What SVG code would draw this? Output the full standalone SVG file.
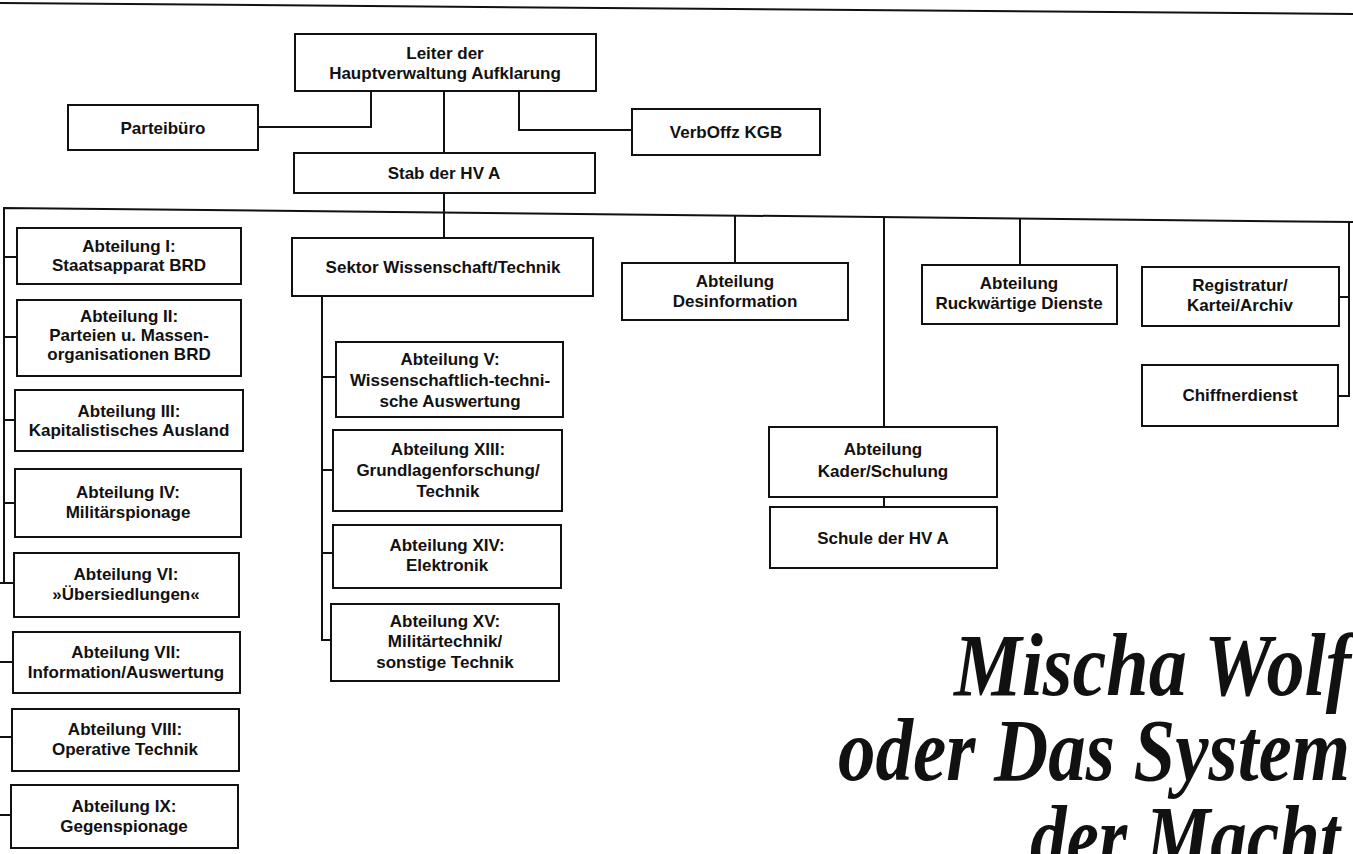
<svg xmlns="http://www.w3.org/2000/svg" width="1353" height="854" viewBox="0 0 1353 854">
<style>
.box{fill:#fff;stroke:#111;stroke-width:2}
.t{font-family:"Liberation Sans",Arial,sans-serif;font-weight:bold;font-size:17px;fill:#111;text-anchor:middle}
.c{fill:none;stroke:#111;stroke-width:2}
.title{font-family:"Liberation Serif","Times New Roman",serif;font-weight:bold;font-style:italic;font-size:88px;fill:#111}
</style>
<rect width="1353" height="854" fill="#fff"/>
<line x1="0" y1="3" x2="1353" y2="14" class="c"/>
<g id="connectors">
<polyline class="c" points="258,127 371,127 371,91"/>
<polyline class="c" points="444,91 444,153"/>
<polyline class="c" points="519,91 519,130 632,130"/>
<polyline class="c" points="444,193 444,238"/>
<polyline class="c" points="4,583 4,208 1353,222"/>
<polyline class="c" points="4,257 17,257"/>
<polyline class="c" points="4,337 17,337"/>
<polyline class="c" points="4,420 15,420"/>
<polyline class="c" points="4,503 15,503"/>
<polyline class="c" points="0,583 14,583"/>
<polyline class="c" points="0,662 13,662"/>
<polyline class="c" points="0,737 12,737"/>
<polyline class="c" points="0,815 11,815"/>
<polyline class="c" points="322,296 322,640 331,640"/>
<polyline class="c" points="322,377 336,377"/>
<polyline class="c" points="322,470 333,470"/>
<polyline class="c" points="322,553 333,553"/>
<polyline class="c" points="735,215 735,263"/>
<polyline class="c" points="884,217 884,427"/>
<polyline class="c" points="884,497 884,507"/>
<polyline class="c" points="1020,218 1020,265"/>
<polyline class="c" points="1349,222 1349,396 1338,396"/>
<polyline class="c" points="1339,297 1349,297"/>
</g>
<g id="leiter"><rect class="box" x="295" y="34" width="301" height="57"/><text class="t" x="445" y="59">Leiter der</text><text class="t" x="445" y="79">Hauptverwaltung Aufklarung</text></g>
<g id="parteibuero"><rect class="box" x="68" y="105" width="190" height="45"/><text class="t" x="163" y="134">Parteibüro</text></g>
<g id="verboffz"><rect class="box" x="632" y="109" width="188" height="46"/><text class="t" x="726" y="138">VerbOffz KGB</text></g>
<g id="stab"><rect class="box" x="294" y="153" width="301" height="40"/><text class="t" x="444" y="179">Stab der HV A</text></g>
<g id="abt1"><rect class="box" x="17" y="228" width="224" height="56"/><text class="t" x="129" y="252">Abteilung I:</text><text class="t" x="129" y="271">Staatsapparat BRD</text></g>
<g id="abt2"><rect class="box" x="17" y="300" width="224" height="76"/><text class="t" x="129" y="322">Abteilung II:</text><text class="t" x="129" y="341">Parteien u. Massen-</text><text class="t" x="129" y="360">organisationen BRD</text></g>
<g id="abt3"><rect class="box" x="15" y="390" width="228" height="61"/><text class="t" x="129" y="417">Abteilung III:</text><text class="t" x="129" y="436">Kapitalistisches Ausland</text></g>
<g id="abt4"><rect class="box" x="15" y="469" width="226" height="68"/><text class="t" x="128" y="498">Abteilung IV:</text><text class="t" x="128" y="518">Militärspionage</text></g>
<g id="abt6"><rect class="box" x="14" y="553" width="225" height="64"/><text class="t" x="126" y="580">Abteilung VI:</text><text class="t" x="126" y="600">»Übersiedlungen«</text></g>
<g id="abt7"><rect class="box" x="13" y="632" width="227" height="61"/><text class="t" x="126" y="658">Abteilung VII:</text><text class="t" x="126" y="678">Information/Auswertung</text></g>
<g id="abt8"><rect class="box" x="12" y="709" width="227" height="62"/><text class="t" x="125" y="735">Abteilung VIII:</text><text class="t" x="125" y="755">Operative Technik</text></g>
<g id="abt9"><rect class="box" x="11" y="785" width="227" height="63"/><text class="t" x="124" y="812">Abteilung IX:</text><text class="t" x="124" y="832">Gegenspionage</text></g>
<g id="sektor"><rect class="box" x="292" y="238" width="301" height="58"/><text class="t" x="443" y="273">Sektor Wissenschaft/Technik</text></g>
<g id="abt5"><rect class="box" x="336" y="342" width="227" height="75"/><text class="t" x="450" y="365">Abteilung V:</text><text class="t" x="450" y="386">Wissenschaftlich-techni-</text><text class="t" x="450" y="407">sche Auswertung</text></g>
<g id="abt13"><rect class="box" x="333" y="430" width="229" height="81"/><text class="t" x="448" y="455">Abteilung XIII:</text><text class="t" x="448" y="476">Grundlagenforschung/</text><text class="t" x="448" y="497">Technik</text></g>
<g id="abt14"><rect class="box" x="333" y="525" width="228" height="63"/><text class="t" x="447" y="551">Abteilung XIV:</text><text class="t" x="447" y="571">Elektronik</text></g>
<g id="abt15"><rect class="box" x="331" y="604" width="228" height="77"/><text class="t" x="445" y="627">Abteilung XV:</text><text class="t" x="445" y="647">Militärtechnik/</text><text class="t" x="445" y="668">sonstige Technik</text></g>
<g id="desinformation"><rect class="box" x="622" y="263" width="226" height="57"/><text class="t" x="735" y="287">Abteilung</text><text class="t" x="735" y="307">Desinformation</text></g>
<g id="rueckwaertige"><rect class="box" x="922" y="265" width="195" height="59"/><text class="t" x="1019" y="289">Abteilung</text><text class="t" x="1019" y="309">Ruckwärtige Dienste</text></g>
<g id="registratur"><rect class="box" x="1142" y="267" width="197" height="59"/><text class="t" x="1240" y="291">Registratur/</text><text class="t" x="1240" y="311">Kartei/Archiv</text></g>
<g id="chiffrierdienst"><rect class="box" x="1142" y="365" width="196" height="61"/><text class="t" x="1240" y="401">Chiffnerdienst</text></g>
<g id="kader"><rect class="box" x="769" y="427" width="228" height="70"/><text class="t" x="883" y="455">Abteilung</text><text class="t" x="883" y="477">Kader/Schulung</text></g>
<g id="schule"><rect class="box" x="770" y="507" width="227" height="61"/><text class="t" x="883" y="544">Schule der HV A</text></g>
<g id="title">
<text class="title" x="954" y="695" textLength="397" lengthAdjust="spacingAndGlyphs">Mischa Wolf</text>
<text class="title" x="838" y="780" textLength="512" lengthAdjust="spacingAndGlyphs">oder Das System</text>
<text class="title" x="1030" y="867" textLength="310" lengthAdjust="spacingAndGlyphs">der Macht</text>
</g>
</svg>
